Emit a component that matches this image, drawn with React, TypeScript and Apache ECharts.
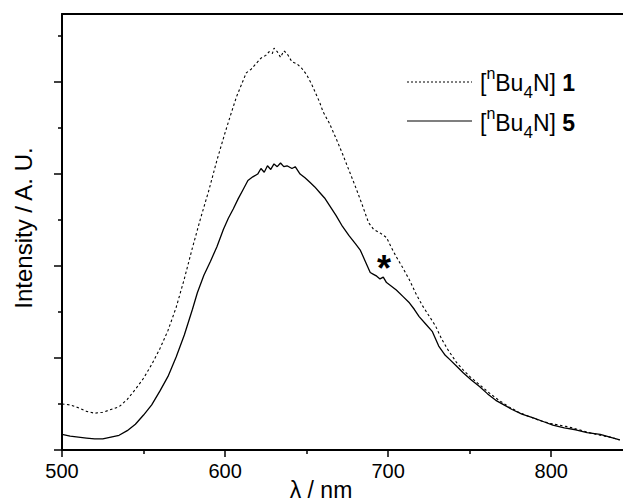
import React, { useEffect, useRef } from 'react';
import * as echarts from 'echarts';

const lambda1 = [500, 505, 510, 515, 520, 525, 530, 535, 540, 545, 550, 555, 560, 565, 570, 575, 580, 585, 590, 595, 600, 603, 607, 610, 613, 616, 619, 622, 625, 627, 629, 630, 632, 634, 636, 638, 641, 644, 647, 650, 653, 656, 658, 660, 664, 668, 672, 676, 680, 684, 688, 691, 695, 699, 702, 705, 709, 713, 717, 721, 725, 729, 733, 737, 742, 746, 750, 756, 762, 768, 774, 780, 787, 793, 799, 805, 811, 817, 823, 830, 836, 842];
const intensity1 = [0.50, 0.49, 0.46, 0.42, 0.40, 0.41, 0.44, 0.47, 0.55, 0.66, 0.78, 0.93, 1.10, 1.30, 1.55, 1.86, 2.20, 2.52, 2.82, 3.15, 3.45, 3.62, 3.84, 3.97, 4.10, 4.14, 4.20, 4.26, 4.29, 4.33, 4.31, 4.37, 4.33, 4.27, 4.34, 4.31, 4.22, 4.20, 4.15, 4.08, 3.98, 3.86, 3.78, 3.68, 3.55, 3.39, 3.22, 3.04, 2.86, 2.67, 2.47, 2.40, 2.36, 2.31, 2.20, 2.10, 1.98, 1.85, 1.70, 1.57, 1.46, 1.35, 1.20, 1.08, 0.95, 0.87, 0.80, 0.71, 0.62, 0.54, 0.47, 0.41, 0.36, 0.32, 0.29, 0.27, 0.25, 0.22, 0.19, 0.16, 0.14, 0.11];

const lambda5 = [500, 505, 510, 515, 520, 525, 530, 535, 540, 545, 550, 555, 560, 565, 570, 575, 580, 583, 587, 591, 595, 599, 602, 605, 608, 611, 614, 617, 620, 622, 624, 626, 628, 630, 632, 634, 636, 638, 641, 643, 646, 649, 652, 655, 658, 661, 664, 668, 672, 676, 680, 683, 686, 689, 691, 693, 695, 697, 699, 702, 705, 709, 713, 716, 719, 723, 727, 731, 735, 738, 742, 746, 751, 756, 761, 766, 771, 776, 782, 789, 795, 801, 808, 815, 822, 830, 836, 842];
const intensity5 = [0.17, 0.15, 0.14, 0.13, 0.12, 0.12, 0.14, 0.16, 0.21, 0.28, 0.38, 0.49, 0.64, 0.80, 1.01, 1.25, 1.53, 1.71, 1.90, 2.05, 2.21, 2.40, 2.52, 2.62, 2.73, 2.83, 2.93, 2.97, 3.00, 3.06, 3.02, 3.09, 3.05, 3.11, 3.08, 3.12, 3.08, 3.09, 3.06, 3.08, 3.00, 2.96, 2.91, 2.86, 2.80, 2.74, 2.66, 2.55, 2.43, 2.33, 2.24, 2.17, 2.05, 1.93, 1.91, 1.89, 1.86, 1.88, 1.82, 1.78, 1.74, 1.67, 1.60, 1.53, 1.45, 1.37, 1.29, 1.13, 1.03, 0.98, 0.91, 0.84, 0.76, 0.69, 0.61, 0.54, 0.49, 0.44, 0.39, 0.35, 0.31, 0.27, 0.24, 0.22, 0.19, 0.17, 0.14, 0.11];

const seriesNames = ['[nBu4N] 1', '[nBu4N] 5'];
const legendRich = ['[{sup|n}Bu{sub|4}N] {b|1}', '[{sup|n}Bu{sub|4}N] {b|5}'];
const xMajorTicks = [500, 600, 700, 800];
const xMinorTicks = [550, 650, 750];
const yMajorTicks = [0, 1, 2, 3, 4];
const yMinorTicks = [0.5, 1.5, 2.5, 3.5, 4.5];
const xTitle = 'λ / nm';
const yTitle = 'Intensity / A. U.';
const annotation = '*';

const FONT = 'Liberation Sans, Arial, Helvetica, sans-serif';
const X_MIN = 500;
const X_MAX = 844;
const Y_MIN = 0;
const Y_MAX = 4.74;

export default function App() {
  const ref = useRef<HTMLDivElement>(null);
  useEffect(() => {
    if (!ref.current) return;
    const chart = echarts.init(ref.current, null, { renderer: 'svg' });
    const data1 = lambda1.map((l, i) => [l, intensity1[i]]);
    const data5 = lambda5.map((l, i) => [l, intensity5[i]]);
    const noLabel = { show: false };
    const richStyles = {
      sup: { fontSize: 16, fontFamily: FONT, verticalAlign: 'top', lineHeight: 24, fill: '#000' },
      sub: { fontSize: 17, fontFamily: FONT, verticalAlign: 'bottom', lineHeight: 16, fill: '#000' },
      b: { fontSize: 23, fontFamily: FONT, fontWeight: 'bold', lineHeight: 36, fill: '#000' },
    };
    chart.setOption({
      animation: false,
      backgroundColor: '#fff',
      grid: { left: 62, top: 14, right: 0, bottom: 52, containLabel: false },
      xAxis: [
        {
          type: 'value', min: X_MIN, max: X_MAX, position: 'bottom',
          axisLine: { show: true, lineStyle: { color: '#000', width: 2 } },
          axisTick: { show: true, inside: false, length: 7, customValues: xMajorTicks, lineStyle: { color: '#000', width: 1.5 } },
          axisLabel: { show: true, customValues: xMajorTicks, margin: 11, color: '#000', fontSize: 20, fontFamily: FONT },
          splitLine: { show: false },
        },
        {
          type: 'value', min: X_MIN, max: X_MAX, position: 'bottom',
          axisLine: { show: false },
          axisTick: { show: true, inside: false, length: 4, customValues: xMinorTicks, lineStyle: { color: '#000', width: 1.5 } },
          axisLabel: noLabel,
          splitLine: { show: false },
        },
        {
          type: 'value', min: X_MIN, max: X_MAX, position: 'top',
          axisLine: { show: true, lineStyle: { color: '#000', width: 2 } },
          axisTick: { show: false },
          axisLabel: noLabel,
          splitLine: { show: false },
        },
      ],
      yAxis: [
        {
          type: 'value', min: Y_MIN, max: Y_MAX, position: 'left',
          axisLine: { show: true, lineStyle: { color: '#000', width: 2 } },
          axisTick: { show: true, inside: false, length: 8, customValues: yMajorTicks, lineStyle: { color: '#000', width: 1.5 } },
          axisLabel: noLabel,
          splitLine: { show: false },
        },
        {
          type: 'value', min: Y_MIN, max: Y_MAX, position: 'left',
          axisLine: { show: false },
          axisTick: { show: true, inside: false, length: 4, customValues: yMinorTicks, lineStyle: { color: '#000', width: 1.5 } },
          axisLabel: noLabel,
          splitLine: { show: false },
        },
      ],
      series: [
        {
          name: seriesNames[0], type: 'line', xAxisIndex: 0, yAxisIndex: 0, data: data1,
          showSymbol: false, symbol: 'none',
          lineStyle: { color: '#000', width: 1.1, type: [2.5, 2.5] },
        },
        {
          name: seriesNames[1], type: 'line', xAxisIndex: 0, yAxisIndex: 0, data: data5,
          showSymbol: false, symbol: 'none',
          lineStyle: { color: '#000', width: 1.3, type: 'solid' },
        },
      ],
      graphic: [
        { type: 'line', shape: { x1: 407, y1: 82, x2: 472, y2: 82 }, style: { stroke: '#000', lineWidth: 1, lineDash: [2, 2] } },
        { type: 'line', shape: { x1: 407, y1: 121, x2: 472, y2: 121 }, style: { stroke: '#000', lineWidth: 1.2 } },
        {
          type: 'text', x: 480, y: 83,
          style: { text: legendRich[0], fontSize: 23, fontFamily: FONT, fill: '#000', verticalAlign: 'middle', lineHeight: 36, rich: richStyles },
        },
        {
          type: 'text', x: 480, y: 123,
          style: { text: legendRich[1], fontSize: 23, fontFamily: FONT, fill: '#000', verticalAlign: 'middle', lineHeight: 36, rich: richStyles },
        },
        {
          type: 'text', x: 321, y: 490,
          style: { text: xTitle, fontSize: 23, fontFamily: FONT, fill: '#000', align: 'center', verticalAlign: 'middle' },
        },
        {
          type: 'text', x: 23, y: 228, rotation: Math.PI / 2,
          style: { text: yTitle, fontSize: 24, fontFamily: FONT, fill: '#000', align: 'center', verticalAlign: 'middle' },
        },
        {
          type: 'text', x: 384, y: 268,
          style: { text: annotation, fontSize: 36, fontWeight: 'bold', fontFamily: FONT, fill: '#000', align: 'center', verticalAlign: 'middle' },
        },
      ],
    });
    return () => chart.dispose();
  }, []);
  return <div ref={ref} style={{ position: 'fixed', left: 0, top: 0, width: 623, height: 502, background: '#fff' }} />;
}
